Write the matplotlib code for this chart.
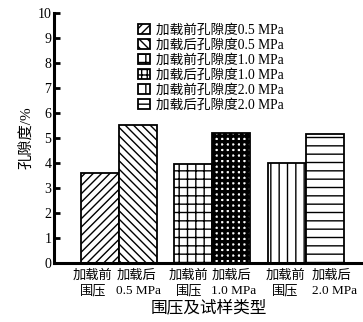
import matplotlib
matplotlib.use("Agg")
import matplotlib.pyplot as plt

plt.rcParams['font.family'] = ['Liberation Serif', 'Noto Sans CJK SC']
plt.rcParams['axes.unicode_minus'] = False

# data
labels = ['加载前孔隙度0.5 MPa', '加载后孔隙度0.5 MPa',
          '加载前孔隙度1.0 MPa', '加载后孔隙度1.0 MPa',
          '加载前孔隙度2.0 MPa', '加载后孔隙度2.0 MPa']
porosity = [3.6, 5.5, 3.95, 5.2, 4.0, 5.15]
tick_labels = ['加载前\n围压', '加载后\n0.5 MPa', '加载前\n围压', '加载后\n1.0 MPa',
               '加载前\n围压', '加载后\n2.0 MPa']
hatches = ['////', '\\\\\\\\', '++', '+++', '||', '--']
xpos = [0, 1, 2.46, 3.46, 4.92, 5.92]

# small nudges so the labels do not run into each other
label_shift = [-0.18, 0.03, -0.12, 0.07, -0.04, 0.24]
hatch_lw = [1.0, 1.0, 1.0, 2.4, 1.0, 1.0]

fig = plt.figure(figsize=(3.63, 3.22), dpi=100)
ax = fig.add_axes([0.149, 0.184, 0.851, 0.776])

for x, v, h, lab, hl in zip(xpos, porosity, hatches, labels, hatch_lw):
    with plt.rc_context({'hatch.linewidth': hl}):
        ax.bar(x, v, width=1.0, color='white', edgecolor='black', linewidth=1.3,
               hatch=h, label=lab, zorder=2)

ax.set_xlim(-1.2, 6.92)
ax.set_ylim(0, 10)
ax.set_yticks(range(0, 11))
ax.set_xticks([x + d for x, d in zip(xpos, label_shift)])
ax.set_xticklabels(tick_labels, fontsize=9.5, linespacing=1.35)
for i, t in enumerate(ax.get_xticklabels()):
    t.set_multialignment('center' if i % 2 == 0 else 'left')
ax.tick_params(axis='x', length=0, pad=5)
ax.tick_params(axis='y', direction='in', length=4.5, width=2, labelsize=10, pad=2)

for s in ['top', 'right']:
    ax.spines[s].set_visible(False)
for s in ['left', 'bottom']:
    ax.spines[s].set_linewidth(2.2)

ax.set_ylabel('孔隙度/%', fontsize=11, labelpad=3)
ax.set_xlabel('围压及试样类型', fontsize=12, labelpad=2)

ax.legend(loc='upper left', bbox_to_anchor=(0.245, 0.988), frameon=False,
          fontsize=9.8, handlelength=0.9, handleheight=0.75, handletextpad=0.4,
          labelspacing=0.14, borderaxespad=0.2)

fig.savefig('out.png', dpi=100)
